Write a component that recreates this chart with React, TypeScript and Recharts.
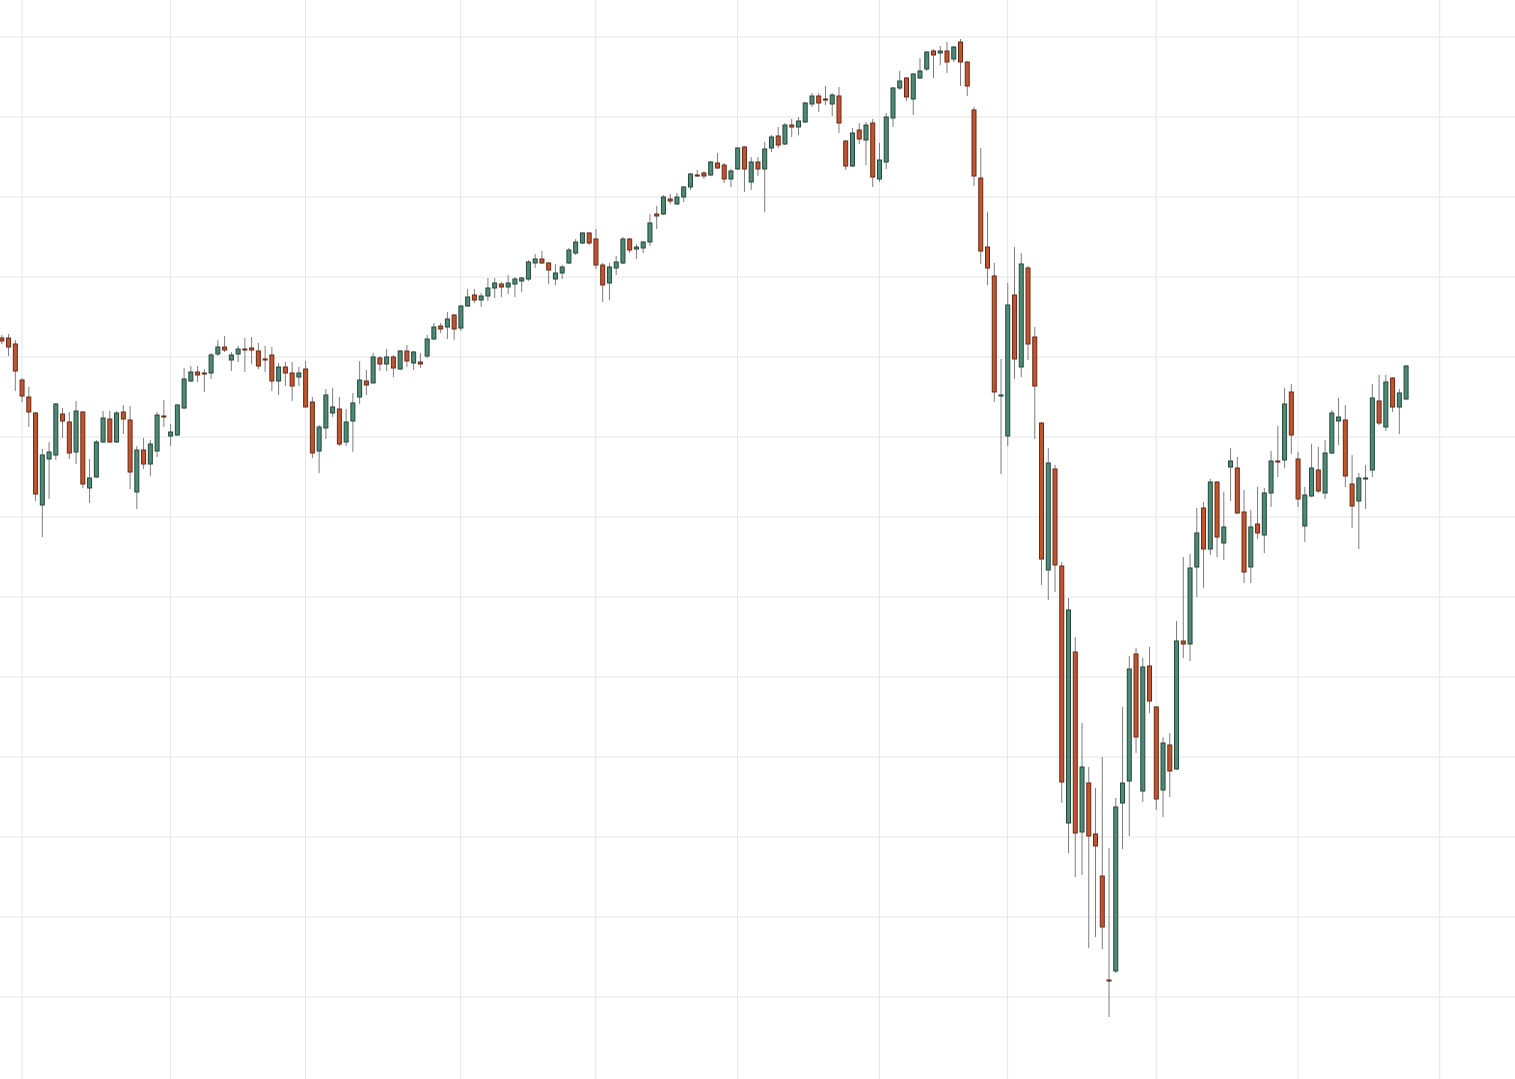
import React from 'react';
import { ComposedChart, Bar, XAxis, YAxis, CartesianGrid } from 'recharts';

// daily OHLC, one entry per session
const openPrices = [
  2839, 2839, 2833, 2797, 2780, 2764, 2672, 2718, 2722, 2763,
  2755, 2725, 2765, 2689, 2700, 2735, 2758, 2735, 2765, 2757,
  2685, 2727, 2713, 2726, 2761, 2741, 2742, 2769, 2796, 2805,
  2804, 2804, 2823, 2830, 2817, 2823, 2828, 2829, 2826, 2818,
  2822, 2796, 2810, 2804, 2800, 2808, 2775, 2726, 2749, 2764,
  2768, 2735, 2756, 2780, 2796, 2794, 2819, 2813, 2820, 2808,
  2826, 2814, 2815, 2821, 2838, 2851, 2850, 2862, 2849, 2871,
  2882, 2877, 2881, 2889, 2893, 2890, 2893, 2896, 2898, 2914,
  2918, 2914, 2898, 2904, 2914, 2924, 2934, 2944, 2938, 2912,
  2894, 2909, 2914, 2938, 2928, 2929, 2935, 2963, 2963, 2978,
  2973, 2980, 2990, 3002, 3004, 3002, 3014, 3012, 2998, 3008,
  3030, 2995, 3015, 3008, 3029, 3041, 3033, 3052, 3050, 3055,
  3073, 3081, 3078, 3073, 3081, 3036, 3011, 3047, 3037, 3054,
  2998, 3015, 3059, 3089, 3099, 3078, 3099, 3108, 3126, 3124,
  3126, 3118, 3135, 3115, 3067, 2999, 2930, 2901, 2781, 2741,
  2882, 2810, 2909, 2840, 2754, 2607, 2708, 2611, 2354, 2525,
  2345, 2394, 2343, 2301, 2197, 2206, 2374, 2396, 2523, 2386,
  2511, 2470, 2387, 2432, 2408, 2536, 2533, 2610, 2669, 2628,
  2695, 2634, 2710, 2709, 2665, 2610, 2653, 2642, 2684, 2716,
  2717, 2785, 2718, 2651, 2681, 2707, 2684, 2724, 2756, 2757,
  2693, 2676, 2698, 2707, 2776, 2750, 2799, 2770, 2778,
];

const highPrices = [
  2842, 2843, 2837, 2799, 2790, 2765, 2728, 2735, 2774, 2769,
  2765, 2776, 2766, 2718, 2737, 2766, 2766, 2766, 2772, 2771,
  2731, 2739, 2737, 2765, 2777, 2753, 2773, 2809, 2811, 2811,
  2808, 2824, 2837, 2841, 2825, 2831, 2839, 2840, 2834, 2831,
  2830, 2814, 2815, 2815, 2810, 2816, 2780, 2752, 2788, 2789,
  2780, 2768, 2784, 2816, 2807, 2824, 2821, 2828, 2822, 2827,
  2832, 2826, 2824, 2842, 2854, 2854, 2865, 2863, 2872, 2888,
  2888, 2884, 2899, 2899, 2895, 2902, 2900, 2900, 2917, 2923,
  2926, 2915, 2913, 2912, 2929, 2938, 2945, 2945, 2948, 2914,
  2914, 2921, 2940, 2939, 2933, 2936, 2963, 2971, 2982, 2983,
  2984, 2991, 3004, 3007, 3006, 3016, 3024, 3014, 3008, 3030,
  3031, 3020, 3020, 3035, 3042, 3050, 3054, 3058, 3060, 3075,
  3084, 3084, 3091, 3084, 3090, 3037, 3049, 3054, 3055, 3058,
  3034, 3064, 3090, 3106, 3100, 3104, 3119, 3126, 3128, 3131,
  3135, 3131, 3138, 3116, 3070, 3029, 2965, 2914, 2818, 2894,
  2930, 2924, 2911, 2850, 2755, 2729, 2712, 2615, 2579, 2540,
  2454, 2410, 2389, 2420, 2329, 2379, 2470, 2521, 2529, 2519,
  2530, 2471, 2440, 2444, 2556, 2620, 2623, 2669, 2675, 2698,
  2696, 2685, 2729, 2720, 2687, 2667, 2690, 2689, 2726, 2751,
  2789, 2793, 2725, 2690, 2733, 2730, 2737, 2767, 2779, 2772,
  2722, 2704, 2712, 2793, 2802, 2802, 2800, 2788, 2812,
];

const lowPrices = [
  2833, 2821, 2786, 2775, 2750, 2676, 2640, 2678, 2717, 2739,
  2718, 2713, 2689, 2674, 2699, 2734, 2734, 2734, 2743, 2688,
  2668, 2708, 2701, 2720, 2750, 2731, 2741, 2768, 2795, 2795,
  2785, 2798, 2821, 2825, 2806, 2815, 2805, 2813, 2808, 2805,
  2786, 2782, 2791, 2776, 2791, 2770, 2719, 2704, 2738, 2760,
  2731, 2731, 2725, 2773, 2782, 2794, 2806, 2806, 2800, 2807,
  2810, 2807, 2809, 2819, 2837, 2844, 2838, 2837, 2846, 2870,
  2874, 2870, 2876, 2879, 2880, 2883, 2880, 2885, 2896, 2909,
  2913, 2893, 2892, 2898, 2913, 2922, 2933, 2932, 2908, 2875,
  2877, 2902, 2913, 2924, 2918, 2924, 2931, 2948, 2962, 2973,
  2972, 2975, 2987, 3000, 2998, 3001, 3008, 2994, 2990, 3007,
  2985, 2987, 3001, 2965, 3025, 3029, 3032, 3040, 3042, 3054,
  3070, 3065, 3072, 3061, 3044, 3007, 3010, 3033, 3012, 2990,
  2995, 3008, 3050, 3087, 3076, 3062, 3098, 3106, 3099, 3112,
  3104, 3115, 3091, 3081, 2991, 2913, 2892, 2775, 2703, 2731,
  2798, 2800, 2817, 2738, 2592, 2577, 2585, 2374, 2324, 2300,
  2302, 2229, 2240, 2228, 2160, 2204, 2328, 2341, 2424, 2375,
  2464, 2367, 2360, 2380, 2407, 2519, 2516, 2580, 2589, 2622,
  2620, 2617, 2676, 2663, 2594, 2594, 2638, 2624, 2670, 2700,
  2709, 2723, 2670, 2635, 2680, 2684, 2678, 2723, 2732, 2690,
  2649, 2628, 2668, 2700, 2752, 2746, 2765, 2743, 2777,
];

const closePrices = [
  2836, 2830, 2806, 2781, 2765, 2683, 2722, 2725, 2773, 2756,
  2724, 2766, 2693, 2699, 2735, 2759, 2735, 2764, 2758, 2705,
  2727, 2713, 2733, 2762, 2760, 2745, 2772, 2798, 2805, 2802,
  2803, 2822, 2830, 2827, 2822, 2828, 2827, 2827, 2811, 2817,
  2796, 2810, 2804, 2791, 2804, 2770, 2724, 2750, 2782, 2770,
  2733, 2755, 2774, 2797, 2792, 2820, 2813, 2820, 2809, 2826,
  2816, 2825, 2813, 2838, 2850, 2848, 2858, 2848, 2871, 2880,
  2877, 2881, 2889, 2894, 2890, 2894, 2898, 2899, 2915, 2918,
  2914, 2907, 2904, 2910, 2927, 2935, 2944, 2934, 2912, 2892,
  2910, 2915, 2938, 2927, 2930, 2935, 2954, 2961, 2980, 2976,
  2980, 2990, 3003, 3001, 3001, 3015, 3009, 2998, 3006, 3029,
  3008, 3015, 3008, 3028, 3040, 3032, 3052, 3050, 3056, 3074,
  3081, 3074, 3077, 3082, 3054, 3011, 3044, 3038, 3052, 3000,
  3017, 3060, 3089, 3096, 3080, 3103, 3106, 3125, 3122, 3126,
  3115, 3130, 3115, 3091, 3001, 2926, 2909, 2785, 2782, 2872,
  2818, 2913, 2833, 2791, 2618, 2714, 2612, 2395, 2567, 2344,
  2410, 2341, 2331, 2250, 2196, 2370, 2394, 2508, 2440, 2510,
  2476, 2378, 2434, 2406, 2536, 2533, 2609, 2644, 2628, 2695,
  2640, 2650, 2716, 2664, 2605, 2650, 2644, 2684, 2716, 2715,
  2773, 2742, 2678, 2682, 2709, 2686, 2724, 2764, 2760, 2701,
  2671, 2699, 2699, 2779, 2754, 2795, 2770, 2784, 2811,
];

// session index where each month begins (vertical grid)
const monthStarts = [3, 25, 45, 68, 88, 109, 130, 149, 171, 192, 213];
// price levels for the horizontal grid
const priceLevels = [2100, 2180, 2260, 2340, 2420, 2500, 2580, 2660, 2740, 2820, 2900, 2980, 3060, 3140];

const candles = openPrices.map((open, i) => ({
  i,
  open,
  high: highPrices[i],
  low: lowPrices[i],
  close: closePrices[i],
}));

const UP_FILL = '#4e8b76';
const UP_EDGE = '#24443a';
const DOWN_FILL = '#c0552f';
const DOWN_EDGE = '#682817';
const WICK = '#7d7d7d';

const Candle = (props: any) => {
  const { x, y, width, height, payload } = props;
  if (x == null || y == null || !payload) return null;
  const top = Math.min(y, y + height);
  const h = Math.abs(height);
  const { open, close, high, low } = payload;
  // high/low come from the axis scale, open/close sit linearly between them
  const toY = (v: number) => top + ((high - v) / (high - low || 1)) * h;
  const cx = x + width / 2;
  const up = close >= open;
  const bodyTop = toY(Math.max(open, close));
  const bodyBottom = toY(Math.min(open, close));
  return (
    <g>
      <line x1={cx} x2={cx} y1={top} y2={top + h} stroke={WICK} strokeWidth={1} />
      <rect
        x={cx - 2}
        y={bodyTop}
        width={4}
        height={Math.max(bodyBottom - bodyTop, 1)}
        fill={up ? UP_FILL : DOWN_FILL}
        stroke={up ? UP_EDGE : DOWN_EDGE}
        strokeWidth={1}
      />
    </g>
  );
};

export default function App() {
  return (
    <div style={{ position: 'fixed', top: 0, left: 0, width: 1515, height: 1079, background: '#ffffff' }}>
      <ComposedChart width={1515} height={1079} data={candles} margin={{ top: 0, right: 0, bottom: 0, left: 0 }}>
        <XAxis dataKey="i" type="number" domain={[-0.25, 224.15]} allowDataOverflow hide />
        <YAxis type="number" domain={[2098, 3177]} allowDataOverflow hide />
        <CartesianGrid
          stroke="#e6e6e6"
          horizontalValues={priceLevels}
          verticalValues={monthStarts}
        />
        <Bar
          dataKey={(d: any) => [d.low, d.high]}
          shape={Candle}
          barSize={5}
          isAnimationActive={false}
        />
      </ComposedChart>
    </div>
  );
}
